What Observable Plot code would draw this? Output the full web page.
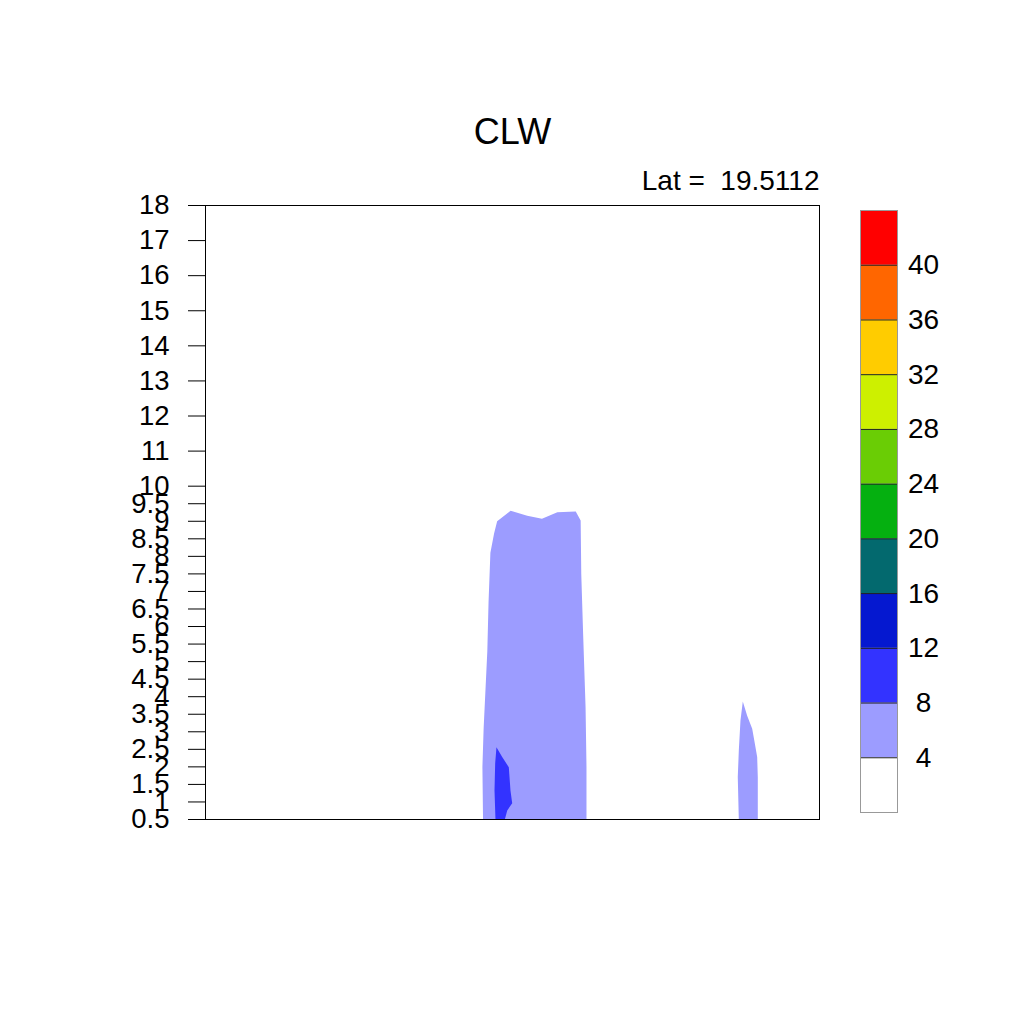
<!DOCTYPE html>
<html>
<head>
<meta charset="utf-8">
<script src="https://cdn.jsdelivr.net/npm/d3@7"></script>
<script src="https://cdn.jsdelivr.net/npm/@observablehq/plot@0.6"></script>
<style>
  html, body { margin: 0; padding: 0; background: #fff; }
  #wrap { position: relative; width: 1024px; height: 1024px; overflow: hidden; }
  #bar { position: absolute; left: 840px; top: 200px; }
</style>
</head>
<body>
<div id="wrap"><div id="main"></div><div id="bar"></div></div>
<script>
const FONT = "'Liberation Sans', Arial, Helvetica, sans-serif";

// ---- data ----
const titleText = "CLW";
const latText = "Lat =  19.5112";
const yTicks = [0.5, 1, 1.5, 2, 2.5, 3, 3.5, 4, 4.5, 5, 5.5, 6, 6.5, 7, 7.5, 8, 8.5, 9, 9.5,
                10, 11, 12, 13, 14, 15, 16, 17, 18];
const levels = [4, 8, 12, 16, 20, 24, 28, 32, 36, 40];
const levelColors = ["#ffffff", "#9c9cff", "#3333ff", "#0518d0", "#03696e", "#05b010",
                     "#6acd05", "#cdf000", "#ffcc00", "#ff6600", "#ff0000"];

// contour polygons (x: position across section 0-100, y: height)
const mainCloud48 = [
  [45.2, 0.5], [45.1, 2.0], [45.3, 3.1], [45.6, 4.2], [45.9, 5.3], [46.1, 6.7], [46.4, 8.1],
  [47.0, 8.65], [47.5, 9.0], [49.7, 9.3], [52.4, 9.16], [54.8, 9.07], [57.3, 9.26],
  [60.3, 9.28], [61.1, 9.02], [61.2, 7.5], [61.5, 5.8], [61.9, 3.7], [62.05, 2.0], [62.05, 0.5]
];
const mainCore812 = [
  [47.39, 2.56], [48.32, 2.28], [49.40, 1.99], [49.67, 1.33], [49.95, 0.96], [49.14, 0.76],
  [48.75, 0.5], [47.23, 0.5], [47.07, 1.33], [47.18, 2.10]
];
const eastCloud48 = [
  [87.51, 3.86], [88.22, 3.46], [89.04, 3.09], [89.46, 2.67], [89.85, 2.28], [89.95, 1.71],
  [89.95, 0.5], [86.86, 0.5], [86.69, 1.71], [86.86, 2.47], [87.13, 3.32]
];

// ---- main plot ----
const poly = (pts, fill) => Plot.line(pts, {x: d => d[0], y: d => d[1], fill, stroke: "none", curve: "linear-closed"});

const main = Plot.plot({
  width: 1024, height: 1024,
  marginLeft: 205, marginRight: 205, marginTop: 205, marginBottom: 205,
  style: {fontFamily: FONT, background: "#fff", color: "#000"},
  x: {domain: [0, 100], axis: null},
  y: {domain: [0.5, 18], axis: null},
  marks: [
    poly(mainCloud48, levelColors[1]),
    poly(eastCloud48, levelColors[1]),
    poly(mainCore812, levelColors[2]),
    Plot.axisY(yTicks, {anchor: "left", tickSize: 17, tickPadding: 19, fontSize: 27.5,
      tickFormat: d => String(d), stroke: "#000", strokeWidth: 1}),
    Plot.frame({stroke: "#000", strokeWidth: 1}),
    Plot.text([titleText], {frameAnchor: "top", dy: -62, lineAnchor: "bottom", fontSize: 36, fill: "#000"}),
    Plot.text([latText], {frameAnchor: "top-right", dy: -16, lineAnchor: "bottom", textAnchor: "end", fontSize: 28, fill: "#000"})
  ]
});
document.getElementById("main").appendChild(main);

// ---- colorbar ----
const bins = levelColors.map((c, i) => ({lo: i * 4, hi: i * 4 + 4, color: c}));
const bar = Plot.plot({
  width: 110, height: 622,
  marginLeft: 20, marginRight: 53, marginTop: 10, marginBottom: 10,
  style: {fontFamily: FONT, background: "transparent", color: "#000"},
  x: {domain: [0, 1], axis: null},
  y: {domain: [0, 44], axis: null},
  marks: [
    Plot.rect(bins, {x1: 0, x2: 1, y1: "lo", y2: "hi", fill: "color"}),
    Plot.ruleY(levels, {stroke: "#222", strokeWidth: 1}),
    Plot.frame({stroke: "#999", strokeWidth: 1}),
    Plot.text(levels, {y: d => d, frameAnchor: "right", dx: 26, textAnchor: "middle", fontSize: 28, fill: "#000"})
  ]
});
document.getElementById("bar").appendChild(bar);
</script>
</body>
</html>
